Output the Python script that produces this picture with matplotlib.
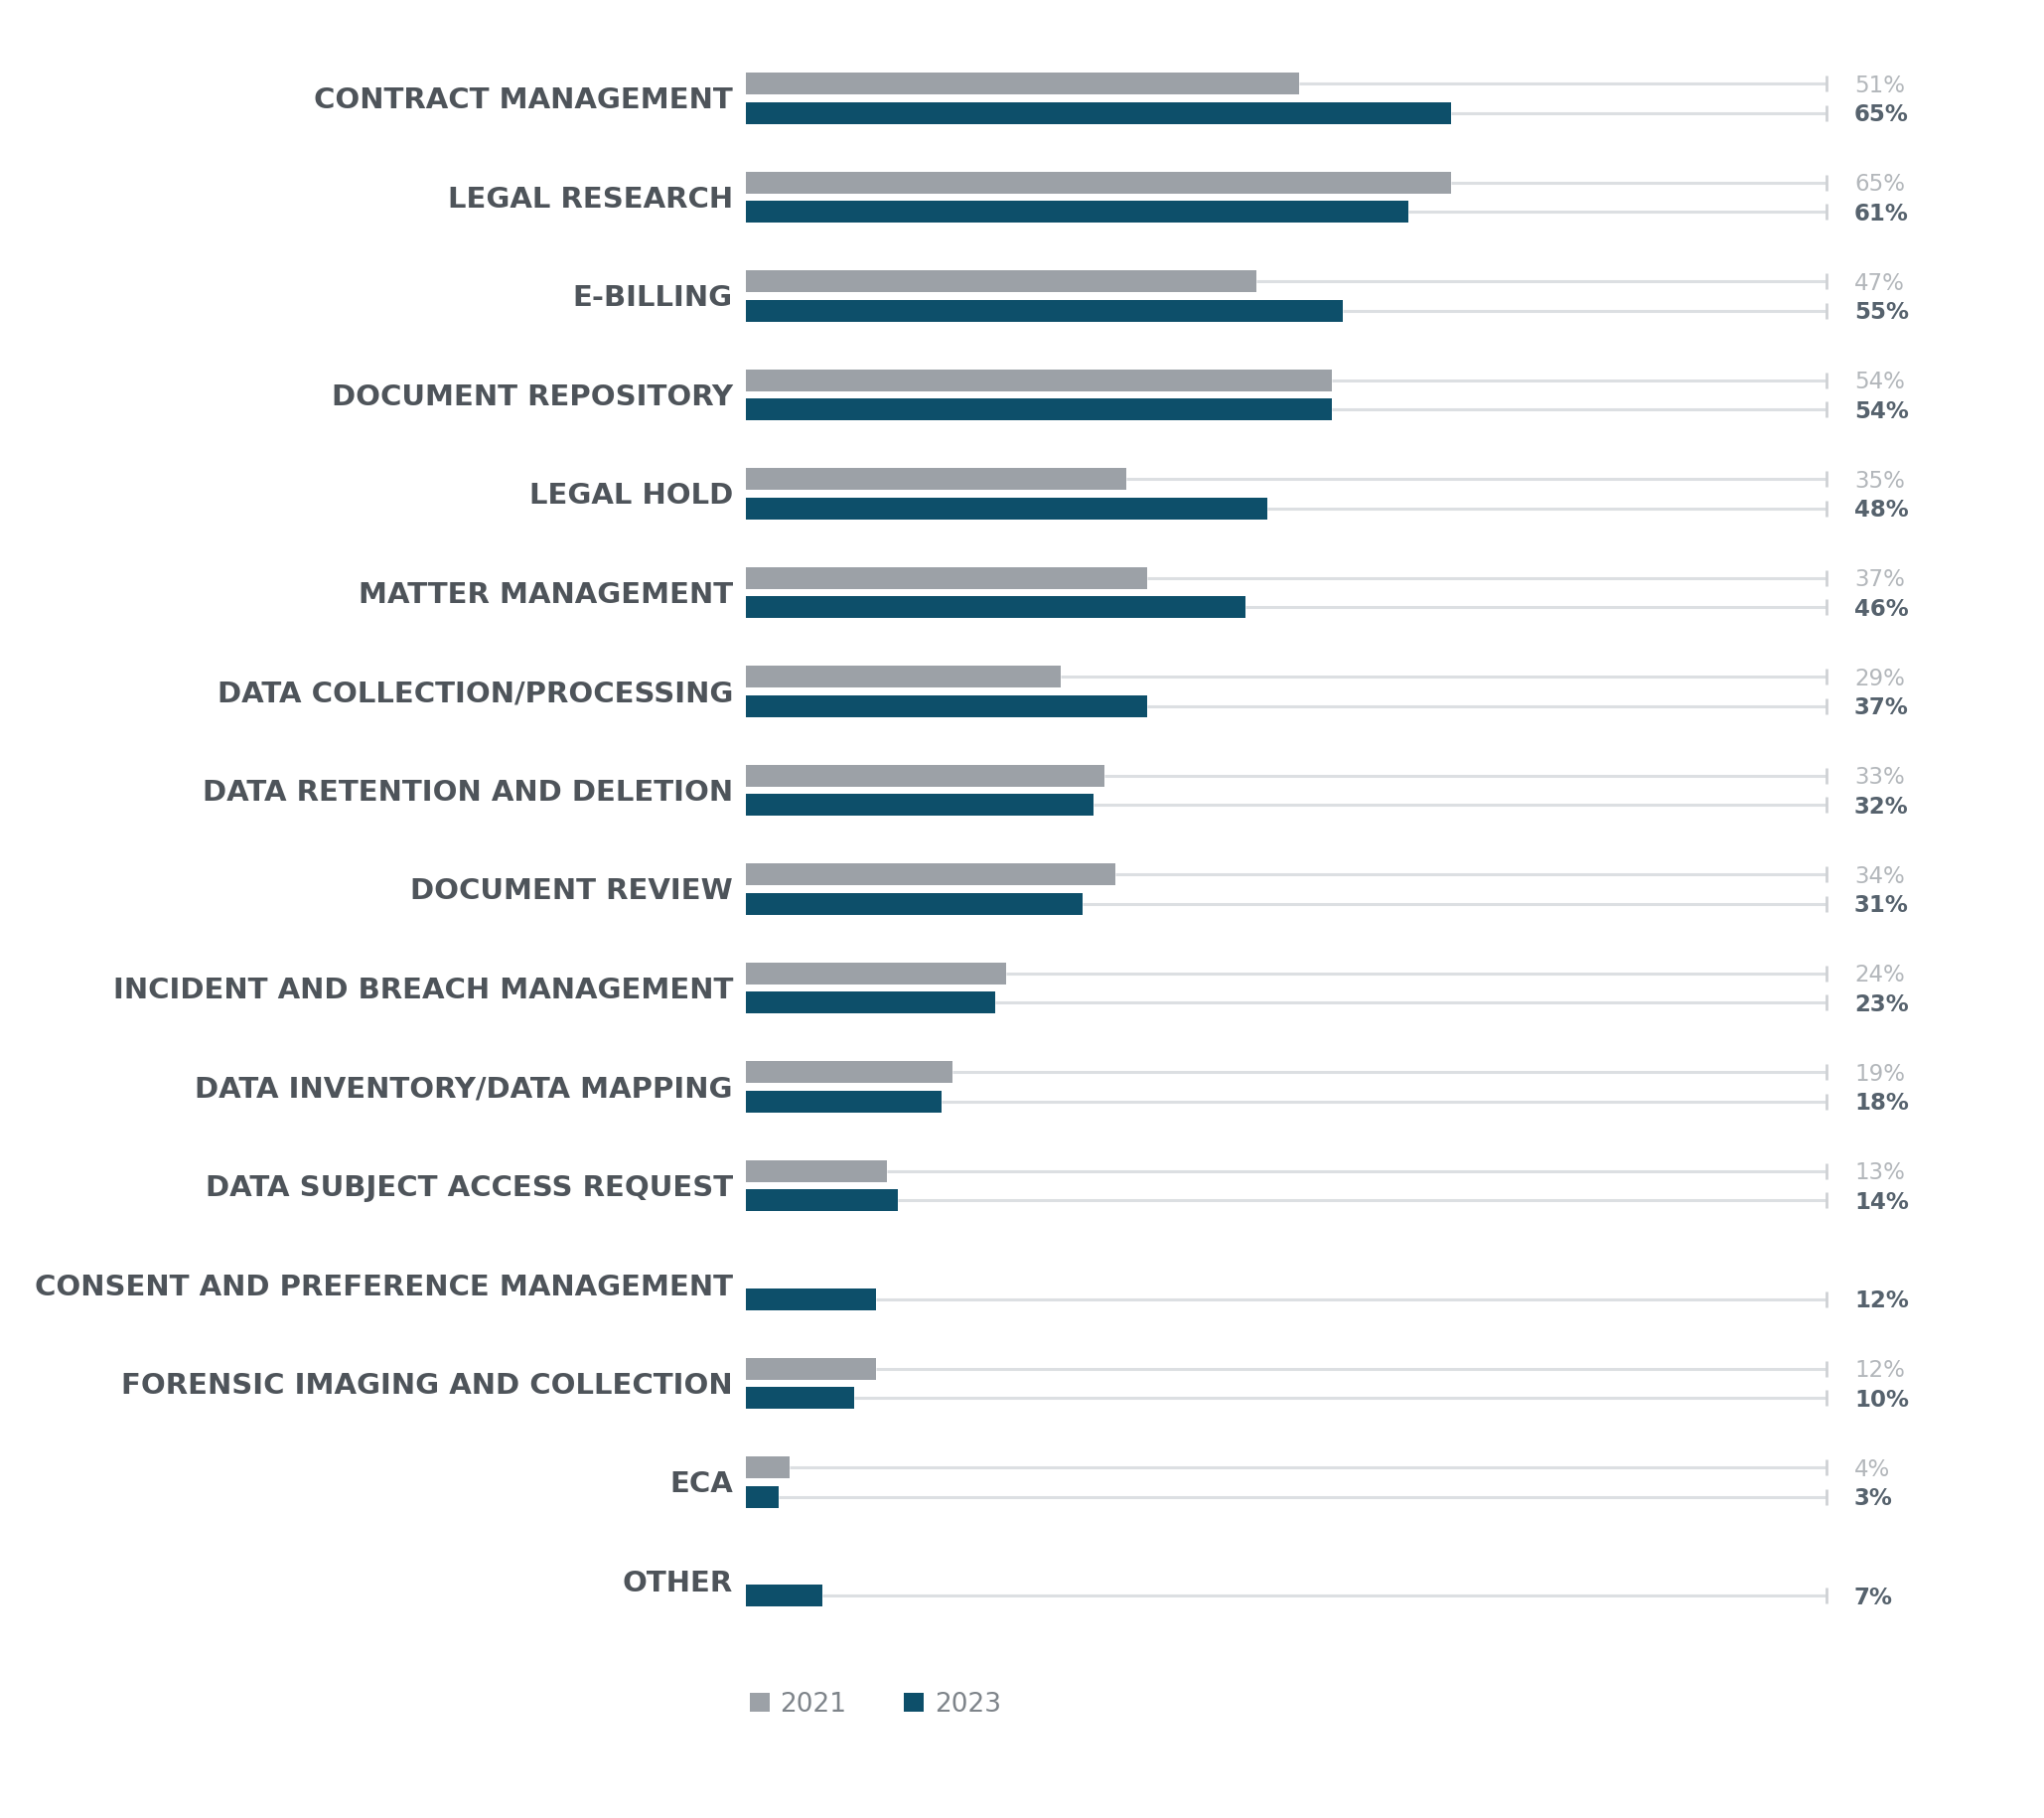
import matplotlib
matplotlib.use("Agg")
import matplotlib.pyplot as plt
from matplotlib.patches import Patch
import numpy as np

categories = [
    "CONTRACT MANAGEMENT", "LEGAL RESEARCH", "E-BILLING", "DOCUMENT REPOSITORY",
    "LEGAL HOLD", "MATTER MANAGEMENT", "DATA COLLECTION/PROCESSING",
    "DATA RETENTION AND DELETION", "DOCUMENT REVIEW", "INCIDENT AND BREACH MANAGEMENT",
    "DATA INVENTORY/DATA MAPPING", "DATA SUBJECT ACCESS REQUEST",
    "CONSENT AND PREFERENCE MANAGEMENT", "FORENSIC IMAGING AND COLLECTION", "ECA", "OTHER",
]
values_2021 = [51, 65, 47, 54, 35, 37, 29, 33, 34, 24, 19, 13, np.nan, 12, 4, np.nan]
values_2023 = [65, 61, 55, 54, 48, 46, 37, 32, 31, 23, 18, 14, 12, 10, 3, 7]
series_labels = ["2021", "2023"]

C21 = "#9ca1a7"
C23 = "#0d4f6a"
TRACK = "#dcdfe2"
LABEL = "#4e545a"
VAL21 = "#b3b7bb"
VAL23 = "#56626d"

W, H = 2058, 1830
fig = plt.figure(figsize=(W / 100, H / 100), dpi=100)
fig.patch.set_facecolor("white")

left_px, right_px = 751, 1844
unit = 99.5
top_px = 99 - 0.6 * unit
bot_px = 99 + 15.6 * unit
ax = fig.add_axes([left_px / W, 1 - bot_px / H, (right_px - left_px) / W, (bot_px - top_px) / H])
ax.set_xlim(0, 100)
ax.set_ylim(15.6, -0.6)
ax.axis("off")

y = np.arange(len(categories))
off = 0.15
bh = 0.22
track_end = 99.5

for vals, dy, col, vcol, vw in [(values_2021, -off, C21, VAL21, "normal"),
                                (values_2023, off, C23, VAL23, "bold")]:
    v = np.array(vals, dtype=float)
    mask = ~np.isnan(v)
    yy = y[mask] + dy
    for yi, vi in zip(yy, v[mask]):
        ax.plot([vi, track_end], [yi, yi], color=TRACK, lw=2.2, zorder=1, solid_capstyle="butt")
        ax.plot([track_end], [yi], marker="|", color="#cfd2d5", markersize=11, mew=2, zorder=1)
        ax.text(track_end + 2.6, yi + 8.5 / unit, f"{int(vi)}%", ha="left", va="baseline",
                fontsize=16.5, color=vcol, family="DejaVu Sans", fontweight=vw, clip_on=False)
    ax.barh(yy, v[mask], height=bh, color=col, zorder=2)

for yi, cat in zip(y, categories):
    ax.text(-1.2, yi + 10.5 / unit, cat, ha="right", va="baseline", fontsize=21,
            fontweight="bold", color=LABEL, family="DejaVu Sans", clip_on=False)

handles = [Patch(facecolor=C21, label=series_labels[0]), Patch(facecolor=C23, label=series_labels[1])]
leg = fig.legend(handles=handles, loc="center left", bbox_to_anchor=(755 / W, 1 - 1716 / H),
                 ncol=2, frameon=False, borderpad=0, borderaxespad=0, handlelength=0.75,
                 handleheight=0.75, handletextpad=0.4, columnspacing=2.2,
                 prop={"family": "DejaVu Sans", "size": 19})
for t in leg.get_texts():
    t.set_color("#7e848a")

fig.savefig("out.png", dpi=100, facecolor="white")
